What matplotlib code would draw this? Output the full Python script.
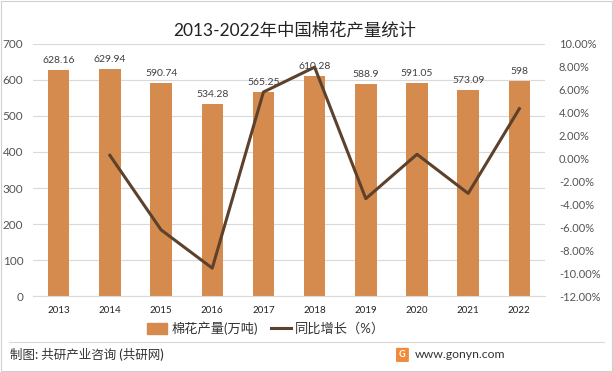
import matplotlib.pyplot as plt
from matplotlib.patches import FancyBboxPatch
from matplotlib.lines import Line2D

plt.rcParams['font.family'] = ['Lato', 'Noto Sans CJK SC', 'DejaVu Sans']

years = ['2013', '2014', '2015', '2016', '2017', '2018', '2019', '2020', '2021', '2022']
output = [628.16, 629.94, 590.74, 534.28, 565.25, 610.28, 588.9, 591.05, 573.09, 598]
output_labels = ['628.16', '629.94', '590.74', '534.28', '565.25', '610.28', '588.9', '591.05', '573.09', '598']
growth = [None, 0.28, -6.22, -9.56, 5.80, 7.97, -3.50, 0.37, -3.04, 4.35]

bar_color = '#D58B4D'
line_color = '#5C412C'
text_color = '#404040'

fig = plt.figure(figsize=(6.13, 3.72), dpi=100)
ax = fig.add_axes([0.054, 0.204, 0.835, 0.678])
x = range(len(years))

ax.bar(x, output, width=0.42, color=bar_color, zorder=2)
for i, v in enumerate(output):
    ax.text(i, v + 14, output_labels[i], ha='center', va='bottom', fontsize=7.5, color=text_color)

ax.set_ylim(0, 700)
ax.set_yticks(range(0, 701, 100))
ax.set_xlim(-0.5, len(years) - 0.5)
ax.set_xticks(list(x))
ax.set_xticklabels(years, fontsize=7, color='#222222')
ax.tick_params(axis='y', labelsize=8.5, colors='#555555', length=0, pad=7)
ax.tick_params(axis='x', length=0, pad=7)
ax.grid(axis='y', color='#D9D9D9', linewidth=0.8, zorder=0)
for s in ax.spines.values():
    s.set_visible(False)
ax.spines['bottom'].set_visible(True)
ax.spines['bottom'].set_color('#D9D9D9')

ax2 = ax.twinx()
gx = [i for i, g in enumerate(growth) if g is not None]
gy = [g for g in growth if g is not None]
ax2.plot(gx, gy, color=line_color, linewidth=2.2, zorder=3)
ax2.set_ylim(-12, 10)
ax2.set_yticks(range(-12, 11, 2))
ax2.set_yticklabels(['%.2f%%' % t for t in range(-12, 11, 2)])
ax2.tick_params(axis='y', labelsize=8, colors='#555555', length=0, pad=10)
for s in ax2.spines.values():
    s.set_visible(False)

fig.text(0.48, 0.918, '2013-2022年中国棉花产量统计', ha='center', va='center',
         fontsize=12.5, color='#222222')

handles = [plt.Rectangle((0, 0), 1, 1, color=bar_color),
           Line2D([0], [0], color=line_color, linewidth=2.2)]
fig.legend(handles, ['棉花产量(万吨)', '同比增长（%）'], loc='center', bbox_to_anchor=(0.434, 0.118),
           ncol=2, frameon=False, fontsize=9.5, handlelength=1.5, handleheight=0.9,
           handletextpad=0.3, columnspacing=1.0, labelcolor='#333333')

fig.add_artist(Line2D([0.015, 0.985], [0.081, 0.081], color='#D9D9D9', linewidth=0.8))
fig.text(0.017, 0.046, '制图: 共研产业咨询 (共研网)', ha='left', va='center',
         fontsize=9, color='#333333', fontweight='medium')
logo = FancyBboxPatch((0.648, 0.029), 0.017, 0.034, boxstyle='round,pad=0.002',
                      transform=fig.transFigure, facecolor='#F08A3C', edgecolor='none')
fig.add_artist(logo)
fig.text(0.6565, 0.046, 'G', ha='center', va='center', fontsize=6.5, color='white', fontweight='bold')
fig.text(0.677, 0.046, 'www.gonyn.com', ha='left', va='center', fontsize=8.8, color='#333333')

fig.add_artist(plt.Rectangle((0.002, 0.003), 0.996, 0.994, transform=fig.transFigure,
                             fill=False, edgecolor='#D0D0D0', linewidth=0.8))

fig.savefig('out.png', dpi=100)
